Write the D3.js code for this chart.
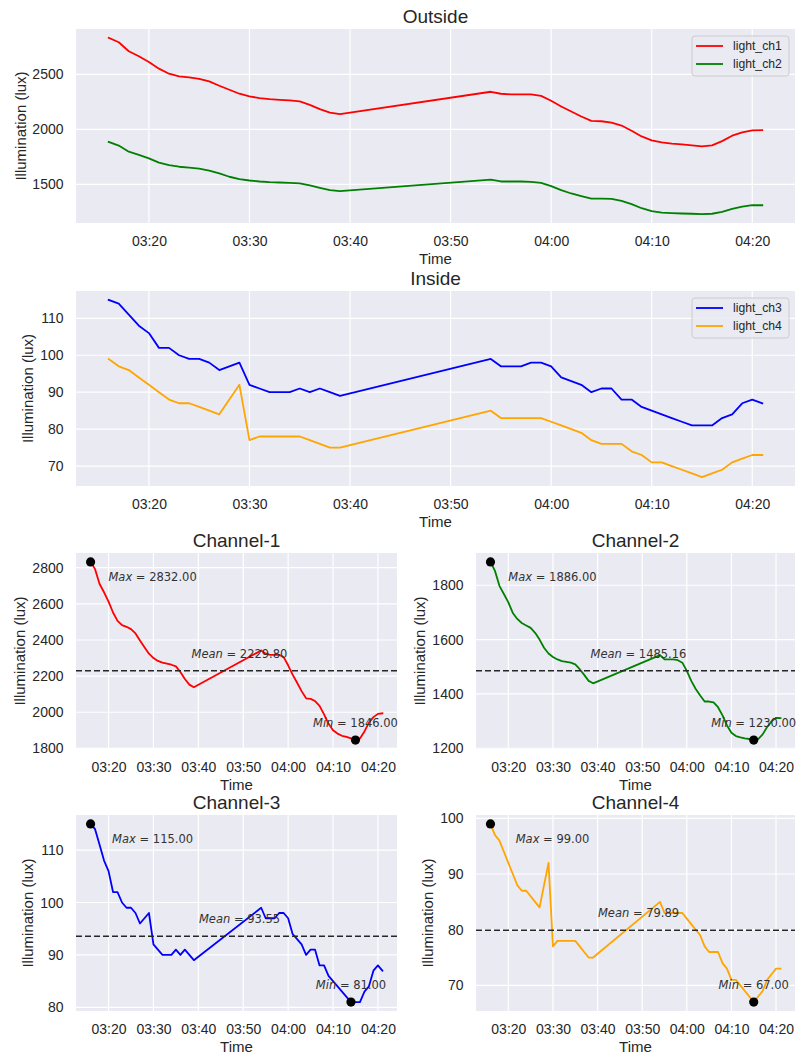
<!DOCTYPE html>
<html>
<head>
<meta charset="utf-8">
<script src="https://cdn.jsdelivr.net/npm/d3@7"></script>
<style>
html,body{margin:0;padding:0;background:#fff;}
svg{display:block;}
</style>
</head>
<body>
<svg id="chart" width="796" height="1057"></svg>
<script>
// ---------------- DATA ----------------
const times = [
  "03:16","03:17","03:18","03:19","03:20","03:21","03:22","03:23","03:24","03:25","03:26","03:27",
  "03:28","03:29","03:30","03:31","03:32","03:33","03:34","03:35","03:36","03:37","03:38","03:39",
  "03:54","03:55","03:56","03:57","03:58","03:59","04:00","04:01","04:02","04:03","04:04","04:05",
  "04:06","04:07","04:08","04:09","04:10","04:11","04:12","04:13","04:14","04:15","04:16","04:17",
  "04:18","04:19","04:20","04:21"
];
const light_ch1 = [
  2832,2792,2710,2664,2612,2552,2506,2482,2473,2460,2436,2397,
  2360,2324,2300,2284,2275,2269,2263,2254,2223,2184,2153,2138,
  2342,2324,2318,2318,2318,2305,2260,2208,2163,2117,2077,2074,
  2062,2035,1988,1936,1900,1882,1870,1864,1855,1846,1855,1894,
  1943,1973,1991,1994
];
const light_ch2 = [
  1886,1853,1798,1768,1737,1698,1676,1661,1652,1643,1625,1600,
  1570,1549,1536,1527,1521,1518,1515,1509,1491,1470,1448,1439,
  1543,1527,1527,1527,1524,1515,1485,1448,1418,1394,1372,1372,
  1369,1351,1321,1284,1257,1245,1240,1236,1234,1230,1234,1251,
  1278,1299,1312,1311
];
const light_ch3 = [
  115,114,111,108,106,102,102,100,99,99,98,96,
  97,98,92,91,90,90,90,91,90,91,90,89,
  99,97,97,97,98,98,97,94,93,92,90,91,
  91,88,88,86,85,84,83,82,81,81,81,83,
  84,87,88,87
];
const light_ch4 = [
  99,97,96,94,92,90,88,87,87,86,85,84,
  88,92,77,78,78,78,78,78,77,76,75,75,
  85,83,83,83,83,83,82,81,80,79,77,76,
  76,76,74,73,71,71,70,69,68,67,68,69,
  71,72,73,73
];
const xTickLabels = ["03:20","03:30","03:40","03:50","04:00","04:10","04:20"];
const yTicksOutside = [1500, 2000, 2500];
const yTicksInside = [70, 80, 90, 100, 110];
const yTicksCh1 = [1800, 2000, 2200, 2400, 2600, 2800];
const yTicksCh2 = [1200, 1400, 1600, 1800];
const yTicksCh3 = [80, 90, 100, 110];
const yTicksCh4 = [70, 80, 90, 100];
const meanValues = [2229.80, 1485.16, 93.55, 79.89];
const seriesNames = ["light_ch1","light_ch2","light_ch3","light_ch4"];
const seriesColors = ["#ff0000","#008000","#0000ff","#ffa500"];

// ---------------- SETUP ----------------
const parse = d3.timeParse("%H:%M");
const T = times.map(parse);
const allSeries = [light_ch1, light_ch2, light_ch3, light_ch4];
const svg = d3.select("#chart");
const FONT = "'Liberation Sans', Arial, 'DejaVu Sans', sans-serif";
const TXT = "#262626";
const BG = "#eaeaf2";

function xDomain() {
  const [a, b] = d3.extent(T);
  const pad = (b - a) * 0.05;
  return [new Date(+a - pad), new Date(+b + pad)];
}
function yDomain(list) {
  const lo = d3.min(list, s => d3.min(s)), hi = d3.max(list, s => d3.max(s));
  const pad = (hi - lo) * 0.05;
  return [lo - pad, hi + pad];
}

function panel(box, idxs, yTicks, title, ylabelX) {
  const g = svg.append("g");
  const x = d3.scaleTime().domain(xDomain()).range([box.l, box.r]);
  const y = d3.scaleLinear().domain(yDomain(idxs.map(i => allSeries[i]))).range([box.b, box.t]);
  g.append("rect").attr("x", box.l).attr("y", box.t).attr("width", box.r - box.l).attr("height", box.b - box.t).attr("fill", BG);
  const xt = xTickLabels.map(parse);
  // grid
  g.selectAll(".vg").data(xt).join("line")
    .attr("x1", d => x(d)).attr("x2", d => x(d)).attr("y1", box.t).attr("y2", box.b)
    .attr("stroke", "#fff").attr("stroke-width", 1.2);
  g.selectAll(".hg").data(yTicks).join("line")
    .attr("x1", box.l).attr("x2", box.r).attr("y1", d => y(d)).attr("y2", d => y(d))
    .attr("stroke", "#fff").attr("stroke-width", 1.2);
  // axes (d3 axes, styled without domain/ticks)
  const xAxis = g.append("g").attr("transform", `translate(0,${box.b})`)
    .call(d3.axisBottom(x).tickValues(xt).tickFormat(d3.timeFormat("%H:%M")).tickSize(0).tickPadding(13));
  const yAxis = g.append("g").attr("transform", `translate(${box.l},0)`)
    .call(d3.axisLeft(y).tickValues(yTicks).tickFormat(d3.format("d")).tickSize(0).tickPadding(12.5));
  [xAxis, yAxis].forEach(a => {
    a.select(".domain").remove();
    a.selectAll("text").attr("font-family", FONT).attr("font-size", 14).attr("fill", TXT);
  });
  // title
  g.append("text").attr("x", (box.l + box.r) / 2).attr("y", box.t - 6)
    .attr("text-anchor", "middle").attr("font-family", FONT).attr("font-size", 19).attr("fill", TXT).text(title);
  // labels
  g.append("text").attr("x", (box.l + box.r) / 2).attr("y", box.b + 41)
    .attr("text-anchor", "middle").attr("font-family", FONT).attr("font-size", 15).attr("fill", TXT).text("Time");
  g.append("text").attr("transform", `translate(${ylabelX},${(box.t + box.b) / 2}) rotate(-90)`)
    .attr("text-anchor", "middle").attr("dominant-baseline", "central")
    .attr("font-family", FONT).attr("font-size", 15).attr("fill", TXT).text("Illumination (lux)");
  // lines
  const line = d3.line().x((d, i) => x(T[i])).y(d => y(d));
  idxs.forEach(i => {
    g.append("path").datum(allSeries[i]).attr("d", line)
      .attr("fill", "none").attr("stroke", seriesColors[i]).attr("stroke-width", 1.8)
      .attr("stroke-linejoin", "round").attr("stroke-linecap", "square");
  });
  return {g, x, y};
}

function legend(g, box, idxs) {
  const lx = box.r - 103, ly = box.t + 7;
  g.append("rect").attr("x", lx).attr("y", ly).attr("width", 97).attr("height", 40).attr("rx", 3)
    .attr("fill", BG).attr("fill-opacity", 0.85).attr("stroke", "#cccccc").attr("stroke-width", 1);
  idxs.forEach((i, k) => {
    const yy = ly + 10 + k * 18;
    g.append("line").attr("x1", lx + 4).attr("x2", lx + 31).attr("y1", yy).attr("y2", yy)
      .attr("stroke", seriesColors[i]).attr("stroke-width", 1.8);
    g.append("text").attr("x", lx + 41).attr("y", yy).attr("dominant-baseline", "central")
      .attr("font-family", FONT).attr("font-size", 12.2).attr("fill", TXT).text(seriesNames[i]);
  });
}

// Outside
const pOut = panel({l: 76, r: 795, t: 29, b: 223}, [0, 1], yTicksOutside, "Outside", 20);
legend(pOut.g, {l: 76, r: 795, t: 29, b: 223}, [0, 1]);
// Inside
const pIn = panel({l: 76, r: 795, t: 291, b: 486}, [2, 3], yTicksInside, "Inside", 27.5);
legend(pIn.g, {l: 76, r: 795, t: 291, b: 486}, [2, 3]);

// Channel panels
const chBoxes = [
  {l: 76, r: 397, t: 553, b: 749},
  {l: 476, r: 795, t: 553, b: 749},
  {l: 76, r: 397, t: 815, b: 1011},
  {l: 476, r: 795, t: 815, b: 1011}
];
const chTicks = [yTicksCh1, yTicksCh2, yTicksCh3, yTicksCh4];
const chYLabelX = [19, 419, 27.5, 427];
const AFONT = "'DejaVu Sans', sans-serif";
function annot(g, cx, cy, label, value) {
  const t = g.append("text").attr("x", cx).attr("y", cy).attr("text-anchor", "middle")
    .attr("dominant-baseline", "central").attr("font-family", AFONT).attr("font-size", 11.5).attr("fill", "#333");
  t.append("tspan").attr("font-style", "italic").text(label);
  t.append("tspan").text(" = " + value.toFixed(2));
}
chBoxes.forEach((box, i) => {
  const p = panel(box, [i], chTicks[i], "Channel-" + (i + 1), chYLabelX[i]);
  const s = allSeries[i];
  const mi = d3.maxIndex(s), ni = d3.minIndex(s);
  const mean = meanValues[i];
  const ym = p.y(mean);
  p.g.append("line").attr("x1", box.l).attr("x2", box.r).attr("y1", ym).attr("y2", ym)
    .attr("stroke", "#262626").attr("stroke-width", 1.4).attr("stroke-dasharray", "6,3");
  const pts = [[T[mi], s[mi]], [T[ni], s[ni]]];
  p.g.selectAll(".dot").data(pts).join("circle")
    .attr("cx", d => p.x(d[0])).attr("cy", d => p.y(d[1])).attr("r", 4.6).attr("fill", "#000");
  annot(p.g, p.x(T[mi]) + 62, p.y(s[mi]) + 15, "Max", s[mi]);
  annot(p.g, p.x(T[ni]), p.y(s[ni]) - 17, "Min", s[ni]);
  annot(p.g, (box.l + box.r) / 2 + 3, ym - 17, "Mean", mean);
});
</script>
</body>
</html>
